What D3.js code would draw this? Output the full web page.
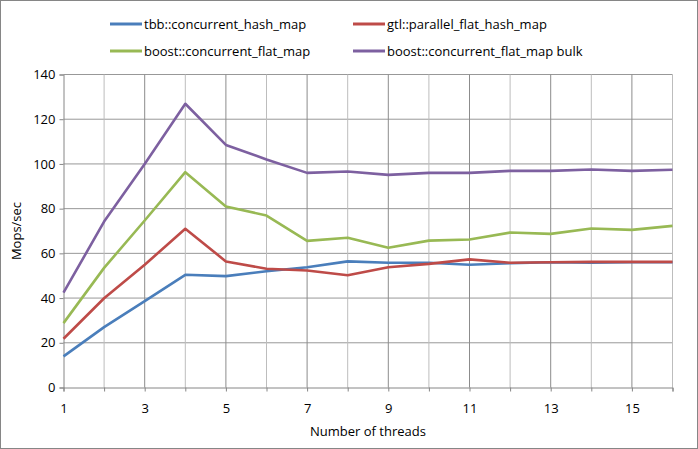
<!DOCTYPE html>
<html>
<head>
<meta charset="utf-8">
<script src="https://cdn.jsdelivr.net/npm/d3@7"></script>
<style>
  html, body { margin: 0; padding: 0; background: #fff; }
  svg { display: block; }
  text { font-family: "Open Sans", "Liberation Sans", sans-serif; fill: #000; }
</style>
</head>
<body>
<svg id="chart" width="698" height="449"></svg>
<script>
const threads = [1,2,3,4,5,6,7,8,9,10,11,12,13,14,15,16];
const seriesNames = ["tbb::concurrent_hash_map", "gtl::parallel_flat_hash_map", "boost::concurrent_flat_map", "boost::concurrent_flat_map bulk"];
const tbb   = [13.9, 27.0, 38.6, 50.4, 49.8, 52.0, 53.8, 56.4, 55.8, 55.8, 54.9, 55.6, 56.0, 55.8, 56.0, 56.0];
const gtl   = [21.8, 39.9, 54.9, 71.0, 56.4, 53.1, 52.3, 50.2, 53.8, 55.3, 57.3, 55.8, 56.0, 56.2, 56.2, 56.2];
const boost = [28.8, 53.5, 74.7, 96.3, 81.0, 76.9, 65.6, 67.0, 62.5, 65.7, 66.2, 69.3, 68.7, 71.1, 70.5, 72.3];
const bulk  = [42.4, 74.2, 100.0, 126.9, 108.5, 102.0, 96.0, 96.6, 95.1, 96.0, 96.0, 96.9, 96.9, 97.5, 96.9, 97.4];
const colors = ["#4A7EBB", "#BE4B48", "#98B954", "#7D60A0"];
const xTickLabels = [1,3,5,7,9,11,13,15];
const yTickLabels = [0,20,40,60,80,100,120,140];

const allSeries = [tbb, gtl, boost, bulk];
const svg = d3.select("#chart");
const W = 698, H = 449;
const FS = "13px";

// outer border
svg.append("rect").attr("x", 0.5).attr("y", 0.5).attr("width", W - 1).attr("height", H - 1)
  .attr("fill", "#fff").attr("stroke", "#868686").attr("stroke-width", 1);

const x = d3.scaleLinear().domain([1, 16]).range([63.5, 672.5]);
const y = d3.scaleLinear().domain([0, 140]).range([387.5, 74.5]);

const g = svg.append("g");

// horizontal gridlines
g.selectAll("line.hgrid").data(yTickLabels.filter(v => v > 0)).join("line")
  .attr("x1", x(1)).attr("x2", x(16))
  .attr("y1", d => y(d)).attr("y2", d => y(d))
  .attr("stroke", "#989898").attr("stroke-width", 1);

// vertical gridlines (minor lighter, labeled darker)
g.selectAll("line.vgrid").data(threads.filter(t => t > 1)).join("line")
  .attr("x1", d => x(d)).attr("x2", d => x(d))
  .attr("y1", y(0)).attr("y2", y(140))
  .attr("stroke", d => xTickLabels.includes(d) ? "#8c8c8c" : "#bdbdbd").attr("stroke-width", 1);

// axes
const xAxis = d3.axisBottom(x).tickValues(threads).tickSize(4).tickFormat(d => xTickLabels.includes(d) ? d : "");
const xg = svg.append("g").attr("transform", `translate(0,${y(0)})`).call(xAxis);
xg.select(".domain").attr("stroke", "#868686");
xg.selectAll(".tick line").attr("stroke", "#868686");
xg.selectAll(".tick text").attr("font-size", FS).attr("font-family", "Open Sans").attr("dy", "1.4em").attr("fill", "#000");

const yAxis = d3.axisLeft(y).tickValues(yTickLabels).tickSize(4).tickPadding(4);
const yg = svg.append("g").attr("transform", `translate(${x(1)},0)`).call(yAxis);
yg.select(".domain").attr("stroke", "#868686");
yg.selectAll(".tick line").attr("stroke", "#868686");
yg.selectAll(".tick text").attr("font-size", FS).attr("font-family", "Open Sans").attr("fill", "#000");

// axis titles
svg.append("text").attr("x", (x(1) + x(16)) / 2).attr("y", 436)
  .attr("text-anchor", "middle").attr("font-size", FS).text("Number of threads");
svg.append("text").attr("transform", `translate(21,${(y(0) + y(140)) / 2}) rotate(-90)`)
  .attr("text-anchor", "middle").attr("font-size", FS).text("Mops/sec");

// lines
const line = d3.line().x((d, i) => x(threads[i])).y(d => y(d));
svg.append("g").selectAll("path").data(allSeries).join("path")
  .attr("d", d => line(d))
  .attr("fill", "none")
  .attr("stroke", (d, i) => colors[i])
  .attr("stroke-width", 2.6)
  .attr("stroke-linejoin", "round");

// legend
const legendPos = [[110, 24], [353, 24], [110, 51], [353, 51]];
const lg = svg.append("g").selectAll("g").data(seriesNames).join("g")
  .attr("transform", (d, i) => `translate(${legendPos[i][0]},${legendPos[i][1]})`);
lg.append("line").attr("x1", 0).attr("x2", 32).attr("y1", 0).attr("y2", 0)
  .attr("stroke", (d, i) => colors[i]).attr("stroke-width", 3);
lg.append("text").attr("x", 34).attr("y", 0).attr("dy", "0.35em")
  .attr("font-size", FS).text(d => d);
</script>
</body>
</html>
